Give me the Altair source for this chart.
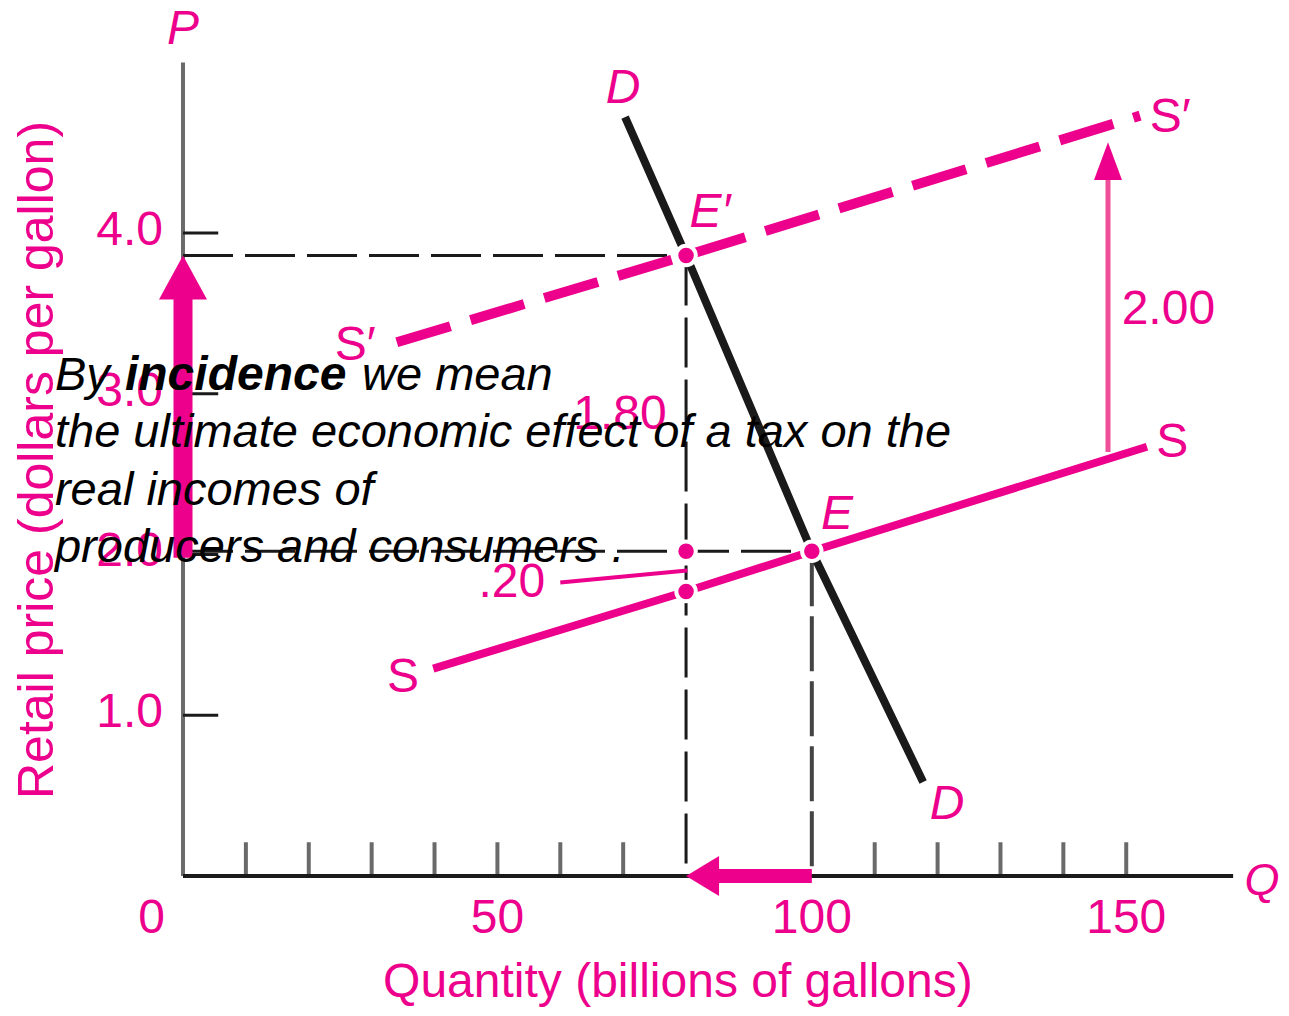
import altair as alt
import pandas as pd

PINK = "#EC008C"
BLACK = "#1a1a1a"
FONT = "Liberation Sans"

# ---- data ----
# demand curve D
d_x = [70.3, 80, 100, 117.7]
d_y = [4.72, 3.86, 2.02, 0.585]
# supply curve S
s_x = [39.8, 80, 100, 153.3]
s_y = [1.29, 1.77, 2.02, 2.67]
# supply curve with tax S'
sp_x = [34.0, 80, 152.2]
sp_y = [3.32, 3.86, 4.73]
# marked points (E', consumer price, producer price, E)
pt_x = [80, 80, 80, 100]
pt_y = [3.86, 2.02, 1.77, 2.02]

# axes
x_axis_end = 167.0
y_axis_end = 5.06
x_tick_vals = [10, 20, 30, 40, 50, 60, 70, 110, 120, 130, 140, 150]
x_label_vals = [50, 100, 150]
x_label_text = ["50", "100", "150"]
y_tick_vals = [1, 2, 3, 4]
y_label_text = ["1.0", "2.0", "3.0", "4.0"]

# arrows: consumer price rise (2.0 -> 3.86), quantity fall (100 -> 80), tax 2.00
tax_x = 147.1
tax_from, tax_to = 2.637, 4.565

# annotation labels
lab_it = [("P", 0, 5.28), ("D", 70.0, 4.914), ("D", 121.5, 0.46),
          ("E′", 83.8, 4.143), ("E", 104.0, 2.264)]
lab_q = [("Q", 171.6, -0.012)]
lab_rg = [("S′", 157.0, 4.734), ("S′", 27.4, 3.316), ("S", 157.3, 2.712), ("S", 35.0, 1.25),
          ("2.00", 156.7, 3.54), ("1.80", 69.5, 2.886), (".20", 52.3, 1.841)]

overlay_lines = ["the ultimate economic effect of a tax on the", "real incomes of",
                 "producers and consumers ."]
overlay_y = [3.023, 2.669, 2.308, 1.955]
overlay_x0 = -20.36

XS = alt.Scale(domain=[0, 170], nice=False, zero=False)
YS = alt.Scale(domain=[0, 5.3], nice=False, zero=False)


def X(f="x"):
    return alt.X(f"{f}:Q", scale=XS, axis=None)


def Y(f="y"):
    return alt.Y(f"{f}:Q", scale=YS, axis=None)


def rules(rows, **kw):
    df = pd.DataFrame(rows, columns=["x", "y", "x2", "y2"])
    return alt.Chart(df).mark_rule(**kw).encode(x=X(), y=Y(), x2="x2:Q", y2="y2:Q")


layers = []

# y axis (gray) and x axis (black)
layers.append(rules([(0, 0, 0, y_axis_end)], color="#6b6b6b", strokeWidth=4))
# y ticks
layers.append(rules([(0, v, 5.6, v) for v in y_tick_vals], color=BLACK, strokeWidth=3))
# x ticks (upward)
layers.append(rules([(v, 0, v, 0.21) for v in x_tick_vals], color="#6a6a6a", strokeWidth=4))
layers.append(rules([(0, 0, x_axis_end, 0)], color=BLACK, strokeWidth=4))

# dashed guide lines
layers.append(rules([(0, pt_y[0], pt_x[0], pt_y[0]), (pt_x[0], pt_y[0], pt_x[0], 0),
                     (0, pt_y[1], pt_x[3], pt_y[3])],
                    color=BLACK, strokeWidth=3, strokeDash=[50, 12]))
layers.append(rules([(pt_x[3], pt_y[3], pt_x[3], 0)], color="#444444", strokeWidth=4,
                    strokeDash=[55, 10]))

# curves
df_d = pd.DataFrame({"x": d_x, "y": d_y, "o": range(len(d_x))})
df_s = pd.DataFrame({"x": s_x, "y": s_y, "o": range(len(s_x))})
df_sp = pd.DataFrame({"x": sp_x, "y": sp_y, "o": range(len(sp_x))})
layers.append(alt.Chart(df_s).mark_line(color=PINK, strokeWidth=8, strokeCap="butt")
              .encode(x=X(), y=Y(), order="o:Q"))
layers.append(alt.Chart(df_sp).mark_line(color=PINK, strokeWidth=10, strokeCap="butt",
                                         strokeDash=[56, 21])
              .encode(x=X(), y=Y(), order="o:Q"))
layers.append(alt.Chart(df_d).mark_line(color=BLACK, strokeWidth=8, strokeCap="butt")
              .encode(x=X(), y=Y(), order="o:Q"))

# .20 pointer and tax arrow shaft
layers.append(rules([(60.0, 1.826, 80.2, 1.90)], color=PINK, strokeWidth=4))
layers.append(rules([(tax_x, tax_from, tax_x, tax_to - 0.2)], color="#ef4f98", strokeWidth=5))
layers.append(alt.Chart(pd.DataFrame({"x": [tax_x], "y": [tax_to]}))
              .mark_point(shape="M0,0L-1,2.7L1,2.7Z", size=784, filled=True, color=PINK,
                          opacity=1, strokeWidth=0)
              .encode(x=X(), y=Y()))

# equilibrium dots
df_pt = pd.DataFrame({"x": pt_x, "y": pt_y})
layers.append(alt.Chart(df_pt).mark_point(shape="circle", size=380, filled=True, fill=PINK,
                                          stroke="white", strokeWidth=4, opacity=1)
              .encode(x=X(), y=Y()))

# big arrows
layers.append(rules([(0, 1.98, 0, 3.62)], color=PINK, strokeWidth=19))
layers.append(alt.Chart(pd.DataFrame({"x": [0], "y": [pt_y[0]]}))
              .mark_point(shape="M0,0L-1,1.83L1,1.83Z", size=2304, filled=True, color=PINK,
                          opacity=1, strokeWidth=0)
              .encode(x=X(), y=Y()))
layers.append(rules([(85.0, 0, pt_x[3], 0)], color=PINK, strokeWidth=14))
layers.append(alt.Chart(pd.DataFrame({"x": [pt_x[0]], "y": [0]}))
              .mark_point(shape="M0,0L1.65,-1L1.65,1Z", size=1600, filled=True, color=PINK,
                          opacity=1, strokeWidth=0)
              .encode(x=X(), y=Y()))

# tick labels
df_xl = pd.DataFrame({"x": x_label_vals, "y": [0] * 3, "t": x_label_text})
layers.append(alt.Chart(df_xl).mark_text(font=FONT, fontSize=48, color=PINK, align="center",
                                         baseline="middle", dy=43)
              .encode(x=X(), y=Y(), text="t:N"))
layers.append(alt.Chart(pd.DataFrame({"x": [0], "y": [0], "t": ["0"]}))
              .mark_text(font=FONT, fontSize=48, color=PINK, align="right", baseline="middle",
                         dx=-18, dy=43)
              .encode(x=X(), y=Y(), text="t:N"))
df_yl = pd.DataFrame({"x": [0] * 4, "y": y_tick_vals, "t": y_label_text})
layers.append(alt.Chart(df_yl).mark_text(font=FONT, fontSize=48, color=PINK, align="right",
                                         baseline="middle", dx=-20, dy=-2)
              .encode(x=X(), y=Y(), text="t:N"))

# axis titles
layers.append(alt.Chart(pd.DataFrame({"x": [78.7], "y": [-0.755],
                                      "t": ["Quantity (billions of gallons)"]}))
              .mark_text(font=FONT, fontSize=48, color=PINK, align="center",
                         baseline="alphabetic")
              .encode(x=X(), y=Y(), text="t:N"))
layers.append(alt.Chart(pd.DataFrame({"x": [-20.68], "y": [2.588],
                                      "t": ["Retail price (dollars per gallon)"]}))
              .mark_text(font=FONT, fontSize=50, color=PINK, align="center",
                         baseline="alphabetic", angle=270)
              .encode(x=X(), y=Y(), text="t:N"))

# annotation letters
df_it = pd.DataFrame(lab_it, columns=["t", "x", "y"])
df_q = pd.DataFrame(lab_q, columns=["t", "x", "y"])
df_rg = pd.DataFrame(lab_rg, columns=["t", "x", "y"])
layers.append(alt.Chart(df_it).mark_text(font=FONT, fontSize=48, fontStyle="italic", color=PINK,
                                         align="center", baseline="middle", dy=3)
              .encode(x=X(), y=Y(), text="t:N"))
layers.append(alt.Chart(df_q).mark_text(font=FONT, fontSize=45, fontStyle="italic", color=PINK,
                                        align="center", baseline="middle", dy=3)
              .encode(x=X(), y=Y(), text="t:N"))
layers.append(alt.Chart(df_rg).mark_text(font=FONT, fontSize=48, color=PINK,
                                         align="center", baseline="middle", dy=3)
              .encode(x=X(), y=Y(), text="t:N"))

# overlay definition text
first = pd.DataFrame({"x": [overlay_x0, -9.23, 28.47], "y": [overlay_y[0]] * 3,
                      "t": ["By", "incidence", "we mean"], "b": ["normal", "bold", "normal"]})
layers.append(alt.Chart(first[first.b == "normal"])
              .mark_text(font=FONT, fontSize=47, fontStyle="italic", color="black",
                         align="left", baseline="alphabetic")
              .encode(x=X(), y=Y(), text="t:N"))
layers.append(alt.Chart(first[first.b == "bold"])
              .mark_text(font=FONT, fontSize=48, fontStyle="italic", fontWeight="bold",
                         color="black", align="left", baseline="alphabetic")
              .encode(x=X(), y=Y(), text="t:N"))
df_ov = pd.DataFrame({"x": [overlay_x0] * 3, "y": overlay_y[1:], "t": overlay_lines})
layers.append(alt.Chart(df_ov).mark_text(font=FONT, fontSize=47, fontStyle="italic",
                                         color="black", align="left", baseline="alphabetic")
              .encode(x=X(), y=Y(), text="t:N"))

chart = alt.layer(*layers).properties(
    width=1069, height=852,
    padding={"left": 175, "top": 16, "right": 29, "bottom": 132},
    autosize=alt.AutoSizeParams(type="none"),
).configure_view(strokeOpacity=0)

chart.save("out.html", embed_options={"renderer": "svg", "actions": False})
